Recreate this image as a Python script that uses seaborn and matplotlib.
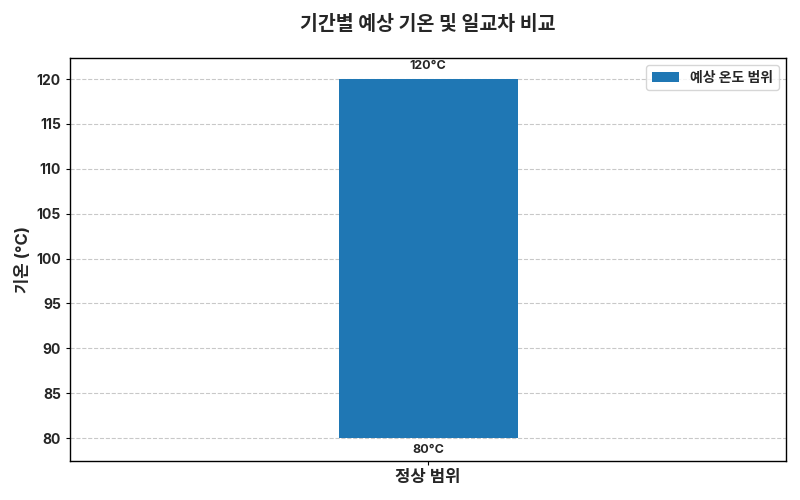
import pandas as pd
import matplotlib
matplotlib.use("Agg")
import matplotlib.pyplot as plt
import seaborn as sns

# 데이터
categories = ["정상 범위"]
low_temps = [80]
high_temps = [120]
series_label = "예상 온도 범위"

sns.set_style("white")
plt.rcParams['font.family'] = ['Inter', 'Noto Sans CJK KR', 'DejaVu Sans']
plt.rcParams['font.weight'] = 'bold'

df = pd.DataFrame({
    "구분": categories,
    "저온": low_temps,
    "고온": high_temps,
})
df["범위"] = df["고온"] - df["저온"]

fig, ax = plt.subplots(figsize=(8, 5), dpi=100)

sns.barplot(data=df, x="구분", y="범위", bottom=df["저온"].values,
            color="#1f77b4", saturation=1, width=0.5, ax=ax,
            linewidth=0, label=series_label)

for i, (lo, hi) in enumerate(zip(low_temps, high_temps)):
    ax.annotate(f"{hi}°C", (i, hi), xytext=(0, 5), textcoords="offset points",
                ha="center", va="bottom", fontsize=9, fontweight="bold")
    ax.annotate(f"{lo}°C", (i, lo), xytext=(0, -4), textcoords="offset points",
                ha="center", va="top", fontsize=9, fontweight="bold")

ax.set_xlim(-1, 1)
ax.set_ylim(77.45, 122.35)
ax.set_yticks(range(80, 121, 5))
ax.grid(axis="y", linestyle="--", color="#bbbbbb", alpha=0.8)
ax.set_axisbelow(True)
for s in ax.spines.values():
    s.set_color("black")
    s.set_linewidth(1)
ax.tick_params(axis="both", length=3, color="black", bottom=True, left=True)
ax.tick_params(axis="x", labelsize=12)
ax.tick_params(axis="y", labelsize=10)

ax.set_title("기간별 예상 기온 및 일교차 비교", fontsize=14, fontweight="bold", pad=20)
ax.set_xlabel("")
ax.set_ylabel("기온 (°C)", fontsize=12, fontweight="bold")
ax.legend(loc="upper right", prop={"weight": "bold", "size": 10})

plt.subplots_adjust(left=0.0875, right=0.9825, top=0.884, bottom=0.078)
plt.savefig("out.png", dpi=100)
